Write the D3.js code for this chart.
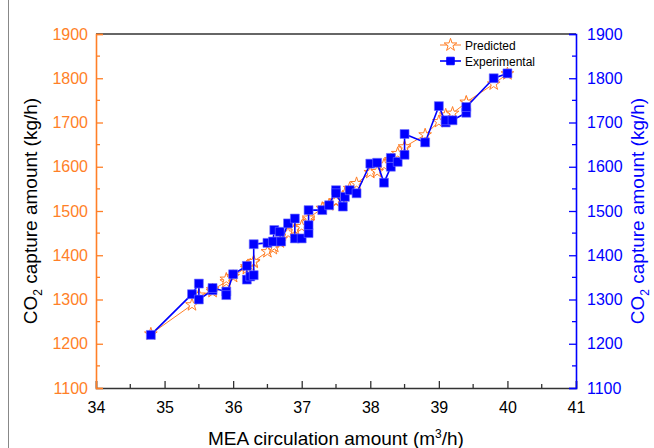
<!DOCTYPE html>
<html>
<head>
<meta charset="utf-8">
<script src="https://cdn.jsdelivr.net/npm/d3@7"></script>
<style>
    body { margin: 0; background: #fff; }
    svg { display: block; font-family: "Liberation Sans", Arial, sans-serif; }
</style>
</head>
<body>
<div id="vis"></div>
<script>
// MEA circulation amount (m3/h), one entry per sample
const circulation = [34.8, 35.4, 35.5, 35.5, 35.7, 35.7, 35.9, 35.9, 36.0, 36.2,
    36.2, 36.25, 36.3, 36.3, 36.5, 36.58, 36.6, 36.68, 36.7, 36.8,
    36.9, 36.9, 37.0, 37.1, 37.1, 37.1, 37.3, 37.4, 37.5, 37.5,
    37.6, 37.63, 37.7, 37.8, 38.0, 38.1, 38.2, 38.3, 38.3, 38.4,
    38.5, 38.5, 38.8, 39.0, 39.1, 39.1, 39.2, 39.4, 39.4, 39.8, 40.0];
const experimental = [1220, 1312, 1336, 1300, 1321, 1326, 1318, 1310, 1357, 1376,
    1345, 1352, 1355, 1425, 1428, 1431, 1457, 1453, 1431, 1472,
    1483, 1438, 1438, 1450, 1468, 1502, 1502, 1513, 1547, 1540,
    1510, 1532, 1547, 1540, 1607, 1609, 1564, 1600, 1620, 1611,
    1627, 1674, 1655, 1737, 1700, 1705, 1705, 1722, 1735, 1800, 1811];
const predicted = [1222, 1288, 1305, 1310, 1318, 1322, 1340, 1346, 1352, 1374,
    1370, 1378, 1384, 1386, 1408, 1415, 1420, 1430, 1436, 1450,
    1458, 1460, 1465, 1476, 1480, 1484, 1506, 1514, 1521, 1523,
    1532, 1538, 1551, 1562, 1587, 1589, 1604, 1612, 1616, 1630,
    1642, 1645, 1672, 1702, 1712, 1717, 1721, 1745, 1746, 1787, 1810];
const xTicks = [34, 35, 36, 37, 38, 39, 40, 41];
const yTicks = [1100, 1200, 1300, 1400, 1500, 1600, 1700, 1800, 1900];

function vis() {
    const width = 654;
    const height = 448;
    const margin = { left: 96, top: 34, right: 78, bottom: 60 };
    const orange = "#ff7f27";
    const blue = "#0000ff";
    const black = "#000";

    const svg = d3.select("#vis")
        .append("svg")
        .attr("width", width)
        .attr("height", height);

    // thin frame line on the left edge of the picture
    svg.append("line")
        .attr("x1", 8.5).attr("x2", 8.5)
        .attr("y1", 0).attr("y2", height)
        .style("stroke", "#888")
        .style("stroke-width", 1);

    const x = d3.scaleLinear()
        .domain([34, 41])
        .range([margin.left, width - margin.right]);
    const y = d3.scaleLinear()
        .domain([1100, 1900])
        .range([height - margin.bottom, margin.top]);

    const minorX = d3.range(34.5, 41, 1);
    const minorY = d3.range(1150, 1900, 100);

    // top frame
    svg.append("line")
        .attr("x1", x(34)).attr("x2", x(41))
        .attr("y1", y(1900)).attr("y2", y(1900))
        .style("stroke", "#333").style("stroke-width", 1.6);

    // bottom axis
    const gx = svg.append("g")
        .attr("transform", `translate(0, ${y(1100)})`)
        .call(d3.axisBottom(x).tickValues(xTicks).tickSize(-7).tickPadding(14).tickFormat(d3.format("d")));
    gx.select(".domain").style("stroke", "#333").style("stroke-width", 1.6);
    gx.selectAll(".tick line").style("stroke", "#333").style("stroke-width", 1.3);
    gx.selectAll("text").style("font-size", "16px").style("fill", black);
    gx.selectAll(".minor")
        .data(minorX)
        .join("line")
            .attr("class", "minor")
            .attr("x1", d => x(d)).attr("x2", d => x(d))
            .attr("y1", 0).attr("y2", -4)
            .style("stroke", "#333").style("stroke-width", 1.3);

    // left axis
    const gyl = svg.append("g")
        .attr("transform", `translate(${x(34)}, 0)`)
        .call(d3.axisLeft(y).tickValues(yTicks).tickSize(-7).tickPadding(8).tickFormat(d3.format("d")));
    gyl.select(".domain").style("stroke", orange).style("stroke-width", 1.6);
    gyl.selectAll(".tick line").style("stroke", orange).style("stroke-width", 1.3);
    gyl.selectAll("text").style("font-size", "16px").style("fill", orange);
    gyl.selectAll(".minor")
        .data(minorY)
        .join("line")
            .attr("class", "minor")
            .attr("y1", d => y(d)).attr("y2", d => y(d))
            .attr("x1", 0).attr("x2", 4)
            .style("stroke", orange).style("stroke-width", 1.3);

    // right axis
    const gyr = svg.append("g")
        .attr("transform", `translate(${x(41)}, 0)`)
        .call(d3.axisRight(y).tickValues(yTicks).tickSize(-7).tickPadding(11).tickFormat(d3.format("d")));
    gyr.select(".domain").style("stroke", blue).style("stroke-width", 1.6);
    gyr.selectAll(".tick line").style("stroke", blue).style("stroke-width", 1.3);
    gyr.selectAll("text").style("font-size", "16px").style("fill", blue);
    gyr.selectAll(".minor")
        .data(minorY)
        .join("line")
            .attr("class", "minor")
            .attr("y1", d => y(d)).attr("y2", d => y(d))
            .attr("x1", 0).attr("x2", -4)
            .style("stroke", blue).style("stroke-width", 1.3);

    // axis titles
    const xTitle = svg.append("text")
        .attr("x", (x(34) + x(41)) / 2)
        .attr("y", 445)
        .attr("text-anchor", "middle")
        .style("font-size", "19px")
        .style("fill", black);
    xTitle.append("tspan").text("MEA circulation amount (m");
    xTitle.append("tspan").attr("dy", -7).style("font-size", "12px").text("3");
    xTitle.append("tspan").attr("dy", 7).text("/h)");

    const yTitle = (cx, color) => {
        const t = svg.append("text")
            .attr("transform", `translate(${cx}, ${(y(1100) + y(1900)) / 2}) rotate(-90)`)
            .attr("text-anchor", "middle")
            .style("font-size", "19px")
            .style("fill", color);
        t.append("tspan").text("CO");
        t.append("tspan").attr("dy", 5).style("font-size", "12px").text("2");
        t.append("tspan").attr("dy", -5).text(" capture amount (kg/h)");
    };
    yTitle(37, black);
    yTitle(644, blue);

    const rows = circulation.map((c, i) => ({ x: c, exp: experimental[i], pred: predicted[i] }));

    const star = d3.symbol().type(d3.symbolStar).size(50);
    const square = d3.symbol().type(d3.symbolSquare).size(80);

    // predicted series
    svg.append("path")
        .datum(rows)
        .attr("d", d3.line().x(d => x(d.x)).y(d => y(d.pred)))
        .style("fill", "none")
        .style("stroke", orange)
        .style("stroke-width", 1);
    svg.selectAll(".star")
        .data(rows)
        .join("path")
            .attr("class", "star")
            .attr("transform", d => `translate(${x(d.x)}, ${y(d.pred)})`)
            .attr("d", star)
            .style("fill", "#fff")
            .style("stroke", orange)
            .style("stroke-width", 1);

    // experimental series
    svg.append("path")
        .datum(rows)
        .attr("d", d3.line().x(d => x(d.x)).y(d => y(d.exp)))
        .style("fill", "none")
        .style("stroke", blue)
        .style("stroke-width", 1.6);
    svg.selectAll(".square")
        .data(rows)
        .join("path")
            .attr("class", "square")
            .attr("transform", d => `translate(${x(d.x)}, ${y(d.exp)})`)
            .attr("d", square)
            .style("fill", blue)
            .style("stroke", "#6f6fff")
            .style("stroke-width", 0.6);

    // legend
    const legend = svg.append("g").attr("transform", "translate(440, 45)");
    const items = [
        { name: "Predicted", color: orange, sym: star, fill: "#fff", w: 1 },
        { name: "Experimental", color: blue, sym: square, fill: blue, w: 1.6 }
    ];
    const li = legend.selectAll(".item")
        .data(items)
        .join("g")
            .attr("class", "item")
            .attr("transform", (_, i) => `translate(0, ${i * 16})`);
    li.append("line")
        .attr("x1", 0).attr("x2", 21)
        .style("stroke", d => d.color)
        .style("stroke-width", d => d.w);
    li.append("path")
        .attr("transform", "translate(10.5, 0)")
        .attr("d", d => d.name === "Predicted" ? star() : d3.symbol().type(d3.symbolSquare).size(56)())
        .style("fill", d => d.fill)
        .style("stroke", d => d.color)
        .style("stroke-width", 1);
    li.append("text")
        .attr("x", 25)
        .attr("y", 4.5)
        .style("font-size", "12px")
        .style("fill", black)
        .text(d => d.name);
}

vis();
</script>
</body>
</html>
